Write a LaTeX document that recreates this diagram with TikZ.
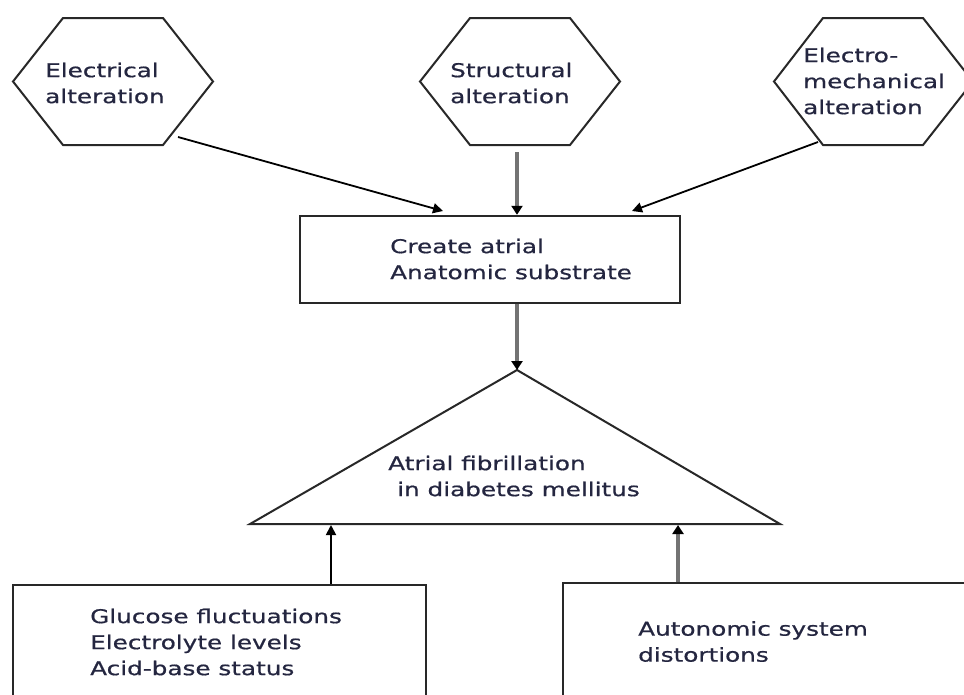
\documentclass[tikz,border=0pt]{standalone}
\usepackage{fontspec}
\newfontfamily\labfont[FakeStretch=1.3,FakeBold=0.7]{DejaVu Sans}
\usetikzlibrary{arrows.meta}
\definecolor{txt}{RGB}{36,38,64}
\definecolor{edge}{RGB}{40,40,40}
\definecolor{garrow}{RGB}{115,115,115}
\tikzset{
  lab/.style={font=\labfont\fontsize{19}{26}\selectfont, text=txt, align=left, anchor=north west, inner sep=0pt},
  shapeline/.style={draw=edge, line width=2pt, line join=miter},
  boxline/.style={draw=edge, line width=2.4pt},
  blackarrow/.style={draw=black, line width=1.8pt, -{Triangle[length=10pt,width=10pt]}},
  grayarrow/.style={draw=garrow, line width=3.5pt, -{Triangle[length=9pt,width=11pt,color=black]}}
}
\begin{document}
\begin{tikzpicture}[x=1pt,y=-1pt]
\useasboundingbox (0,0) rectangle (964,694);
\clip (0,0) rectangle (964,694);
\fill[white] (0,0) rectangle (964,694);
% hexagons
\draw[shapeline] (13,81.5) -- (63,18) -- (163,18) -- (213,81.5) -- (163,145) -- (63,145) -- cycle;
\draw[shapeline] (420,81.5) -- (470,18) -- (570,18) -- (620,81.5) -- (570,145) -- (470,145) -- cycle;
\draw[shapeline] (774,81.5) -- (823,18) -- (923,18) -- (973,81.5) -- (923,145) -- (823,145) -- cycle;
\node[lab] (elec) at (45,62.5) {Electrical\\alteration};
\node[lab] (struc) at (450,62.5) {Structural\\alteration};
\node[lab] (emech) at (803,47.5) {Electro-\\mechanical\\alteration};
\coordinate (elecout) at (178,137);
\coordinate (strucout) at (517,152);
\coordinate (emechout) at (818,142);
% central rectangle
\node[boxline, minimum width=380pt, minimum height=87pt, inner sep=0pt] (sub) at (490,259.5) {};
\node[lab] (subtxt) at (390,238.5) {Create atrial\\Anatomic substrate};
\coordinate (subin1) at (443,211);
\coordinate (subin3) at (632,211);
% triangle
\coordinate (apex) at (517,370);
\coordinate (tl) at (250,524);
\coordinate (tr) at (780,524);
\draw[shapeline] (tl) -- (apex) -- (tr) -- cycle;
\node[lab] (af) at (388,455.5) {Atrial fibrillation\\\hspace*{9pt}in diabetes mellitus};
\coordinate (afin1) at (331,525);
\coordinate (afin2) at (678,525);
% bottom boxes
\draw[boxline] (13,720) -- (13,585) -- (426,585) -- (426,720);
\draw[boxline] (563,720) -- (563,583) -- (990,583);
\node[lab] (gluc) at (90,608.5) {Glucose fluctuations\\Electrolyte levels\\Acid-base status};
\node[lab] (auto) at (638,621) {Autonomic system\\distortions};
\coordinate (glucout) at (331,584);
\coordinate (autoout) at (678,582);
% connectors
\draw[blackarrow] (elecout) -- (subin1);
\draw[grayarrow] (strucout) -- (sub.north -| strucout);
\draw[blackarrow] (emechout) -- (subin3);
\draw[grayarrow] (sub.south -| apex) -- (apex);
\draw[blackarrow] (glucout) -- (afin1);
\draw[grayarrow] (autoout) -- (afin2);
\end{tikzpicture}
\end{document}
